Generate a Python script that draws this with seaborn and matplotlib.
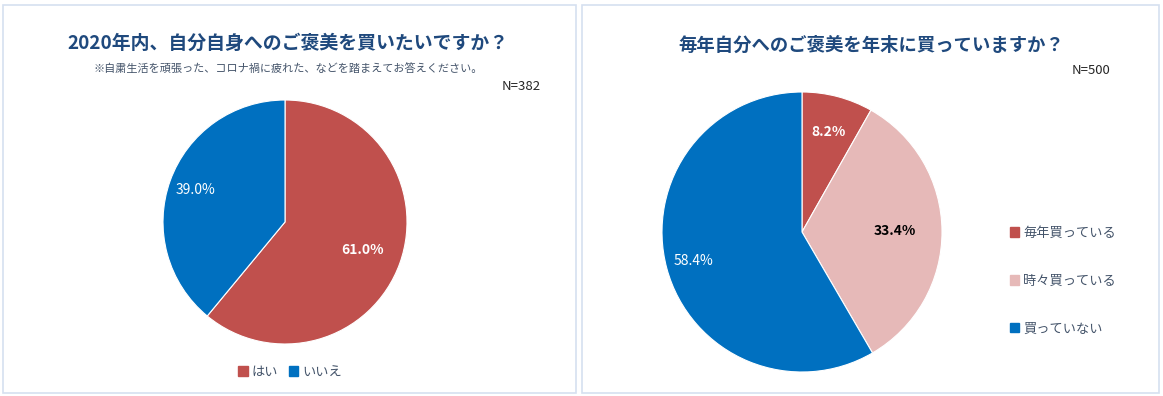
import numpy as np
import matplotlib
matplotlib.use("Agg")
import matplotlib.pyplot as plt
import seaborn as sns
from matplotlib.patches import Rectangle, Patch

# data
left_labels = ["はい", "いいえ"]
left_values = [61.0, 39.0]
right_labels = ["毎年買っている", "時々買っている", "買っていない"]
right_values = [8.2, 33.4, 58.4]

left_title = "2020年内、自分自身へのご褒美を買いたいですか？"
left_sub = "※自粛生活を頑張った、コロナ禍に疲れた、などを踏まえてお答えください。"
right_title = "毎年自分へのご褒美を年末に買っていますか？"

sns.set_theme(style="white")
plt.rcParams['font.family'] = ['Noto Sans CJK JP', 'DejaVu Sans']

RED = "#C0504D"
PINK = "#E6B9B8"
BLUE = "#0070C0"
NAVY = "#1F497D"
TEXT = "#44546A"

W, H = 1163, 396
fig = plt.figure(figsize=(W / 100, H / 100), dpi=100)

def px_axes(cx, cy, r):
    # axes square around pie centre, pixel coords from top-left
    return fig.add_axes([(cx - r) / W, 1 - (cy + r) / H, 2 * r / W, 2 * r / H])

# panel borders
for x0, x1 in [(3, 576), (582, 1159)]:
    fig.patches.append(Rectangle((x0 / W, 3 / H), (x1 - x0) / W, (391 - 3) / H,
                                 transform=fig.transFigure, fill=False,
                                 edgecolor="#D6E0F0", linewidth=1.2))

def draw_pie(ax, values, colors, label_r, label_col, label_bold):
    wedges, _ = ax.pie(values, colors=colors, startangle=90, counterclock=False,
                       radius=1.0, wedgeprops=dict(linewidth=0.8, edgecolor="white"))
    for w, v, r, c, b in zip(wedges, values, label_r, label_col, label_bold):
        ang = np.deg2rad((w.theta1 + w.theta2) / 2)
        ax.text(r * np.cos(ang), r * np.sin(ang), f"{v:.1f}%", ha="center", va="center",
                color=c, fontsize=10, fontweight="bold" if b else "normal")
    ax.set_xlim(-1, 1)
    ax.set_ylim(-1, 1)
    ax.set_aspect("equal")
    ax.axis("off")
    return wedges

# left pie
axl = px_axes(285, 222, 122)
wl = draw_pie(axl, left_values, [RED, BLUE], [0.68, 0.78], ["white", "white"], [True, False])

# right pie
axr = px_axes(802, 232, 140)
wr = draw_pie(axr, right_values, [RED, PINK, BLUE], [0.74, 0.66, 0.80],
              ["white", "black", "white"], [True, True, False])

# titles
fig.text(288 / W, 1 - 43 / H, left_title, ha="center", va="center", fontsize=13.6,
         fontweight="bold", color=NAVY)
fig.text(288 / W, 1 - 68 / H, left_sub, ha="center", va="center", fontsize=8, color=TEXT)
fig.text(541 / W, 1 - 87 / H, "N=382", ha="right", va="center", fontsize=9.5, color="#262626")

fig.text(871 / W, 1 - 45 / H, right_title, ha="center", va="center", fontsize=13.2,
         fontweight="bold", color=NAVY)
fig.text(1110 / W, 1 - 70 / H, "N=500", ha="right", va="center", fontsize=9.5, color="#262626")

# legends
fig.legend(handles=[Patch(color=c, label=l) for c, l in zip([RED, BLUE], left_labels)],
           loc="center", bbox_to_anchor=(290 / W, 1 - 372 / H), ncol=2, frameon=False,
           fontsize=9.5, handlelength=0.7, handleheight=0.7, handletextpad=0.3,
           columnspacing=0.8, labelcolor=TEXT)
fig.legend(handles=[Patch(color=c, label=l) for c, l in zip([RED, PINK, BLUE], right_labels)],
           loc="center left", bbox_to_anchor=(998 / W, 1 - 281 / H), ncol=1, frameon=False,
           fontsize=9.5, handlelength=0.7, handleheight=0.7, handletextpad=0.3,
           labelspacing=2.65, labelcolor=TEXT)

fig.savefig("out.png", dpi=100)
